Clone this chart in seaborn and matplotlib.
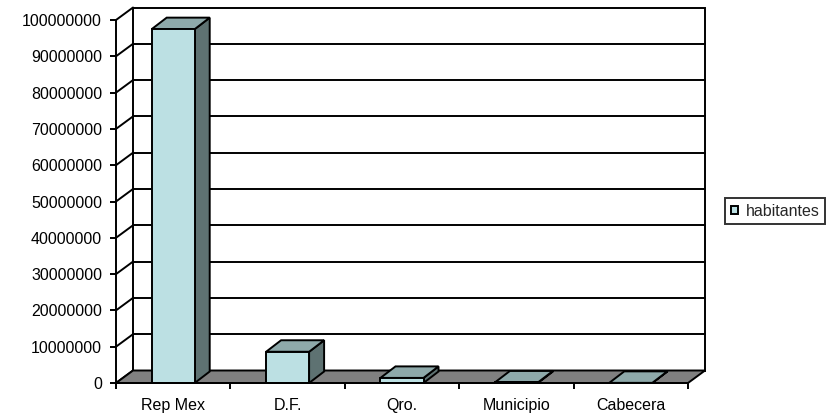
import matplotlib
matplotlib.use("Agg")
import matplotlib.pyplot as plt
import seaborn as sns
import pandas as pd
from matplotlib.patches import Polygon, Patch
from matplotlib.lines import Line2D
from matplotlib.ticker import FixedLocator

# Population figures per geographic level
categories = ["Rep Mex", "D.F.", "Qro.", "Municipio", "Cabecera"]
habitantes = [97483412, 8605239, 1404306, 150000, 40000]
series_name = "habitantes"
y_ticks = list(range(0, 100000001, 10000000))
y_tick_labels = [str(v) for v in y_ticks]

FRONT = "#BCE0E3"
SIDE = "#5E7272"
TOP = "#8EA9AA"
FLOOR = "#808080"

sns.set_theme(style="white")
plt.rcParams["font.family"] = ["Liberation Sans", "DejaVu Sans"]

W, H = 837, 413
fig = plt.figure(figsize=(W / 100, H / 100), dpi=100)
fig.patch.set_facecolor("white")
ax = fig.add_axes([116 / W, (H - 383) / H, (688 - 116) / W, (383 - 20) / H])
ax.set_facecolor("none")

lw = 1.4
fs = 11.5

df = pd.DataFrame({"categoria": categories, series_name: habitantes})
sns.barplot(data=df, x="categoria", y=series_name, color=FRONT, saturation=1,
            width=0.376, edgecolor="black", linewidth=lw, ax=ax, zorder=5)
bars = list(ax.patches)

n = len(categories)
ax.set_xlim(-0.5, n - 0.5)
ax.set_ylim(y_ticks[0], y_ticks[-1])

# depth of the pseudo-3D box, converted from screen pixels to data units
p0 = ax.transData.transform((0, 0))
p1 = ax.transData.transform((1, 1e7))
ux = p1[0] - p0[0]
uy = (p1[1] - p0[1]) / 1e7
DX, DY = 17 / ux, 12.5 / uy          # walls
BX, BY = 15 / ux, 11.5 / uy          # bars

xl, xr = -0.5, n - 0.5
ytop = y_ticks[-1]

# back wall
ax.add_patch(Polygon([(xl + DX, DY), (xr + DX, DY), (xr + DX, ytop + DY), (xl + DX, ytop + DY)],
                     closed=True, facecolor="white", edgecolor="black", lw=lw,
                     zorder=0.5, clip_on=False))
# gridlines on back wall and along the left wall
for v in y_ticks:
    if 0 < v < ytop:
        ax.add_line(Line2D([xl + DX, xr + DX], [v + DY, v + DY], color="black", lw=lw,
                           zorder=0.6, clip_on=False))
    ax.add_line(Line2D([xl, xl + DX], [v, v + DY], color="black", lw=lw,
                       zorder=0.6, clip_on=False))
# floor
ax.add_patch(Polygon([(xl, 0), (xr, 0), (xr + DX, DY), (xl + DX, DY)], closed=True,
                     facecolor=FLOOR, edgecolor="black", lw=lw, zorder=1, clip_on=False))

# side and top faces of each bar
for p in bars:
    x0 = p.get_x()
    x1 = x0 + p.get_width()
    h = p.get_height()
    ax.add_patch(Polygon([(x1, 0), (x1, h), (x1 + BX, h + BY), (x1 + BX, BY)], closed=True,
                         facecolor=SIDE, edgecolor="black", lw=lw, zorder=4, clip_on=False))
    ax.add_patch(Polygon([(x0, h), (x1, h), (x1 + BX, h + BY), (x0 + BX, h + BY)], closed=True,
                         facecolor=TOP, edgecolor="black", lw=lw, zorder=4, clip_on=False))

# axes styling
for s in ("top", "right"):
    ax.spines[s].set_visible(False)
for s in ("left", "bottom"):
    ax.spines[s].set_color("black")
    ax.spines[s].set_linewidth(lw)
    ax.spines[s].set_zorder(6)

ax.set_yticks(y_ticks)
ax.set_yticklabels(y_tick_labels)
ax.set_xticks(range(n))
ax.set_xticklabels(categories)
ax.xaxis.set_minor_locator(FixedLocator([i - 0.5 for i in range(n + 1)]))
ax.tick_params(axis="y", which="major", left=True, length=4, width=lw, color="black",
               direction="out", labelsize=fs, labelcolor="black", pad=6)
ax.tick_params(axis="x", which="major", bottom=True, length=0, labelsize=fs,
               labelcolor="black", pad=10.5)
ax.tick_params(axis="x", which="minor", bottom=True, length=4.5, width=lw, color="black",
               direction="out")
ax.set_xlabel("")
ax.set_ylabel("")
ax.grid(False)

leg = fig.legend(handles=[Patch(facecolor=FRONT, edgecolor="black", lw=lw, label=series_name)],
                 loc="center left", bbox_to_anchor=(725 / W, (H - 211) / H),
                 frameon=True, fancybox=False, shadow=False, edgecolor="black",
                 handlelength=0.45, handleheight=0.45, handletextpad=0.5,
                 borderpad=0.35, borderaxespad=0, fontsize=fs)
leg.get_frame().set_linewidth(lw)

fig.savefig("out.png", dpi=100, facecolor="white")
